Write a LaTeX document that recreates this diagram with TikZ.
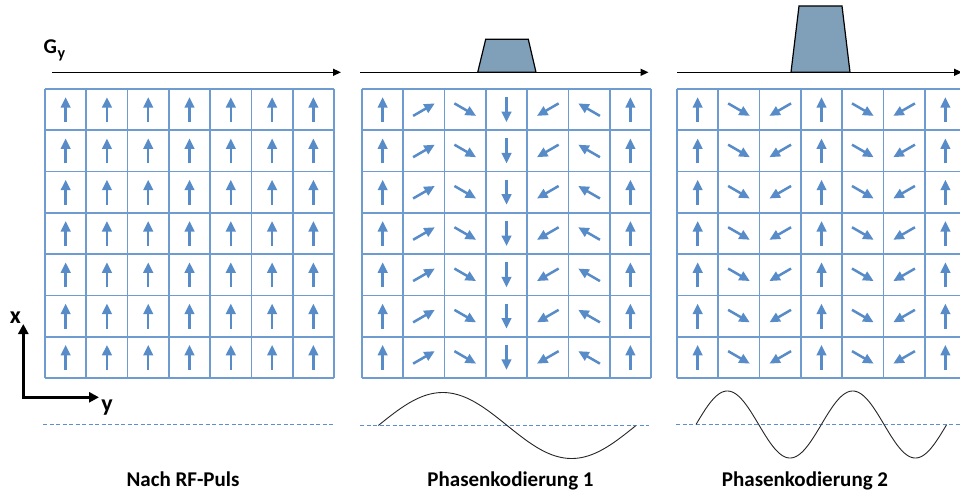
\documentclass[tikz,border=0pt]{standalone}
\usepackage{fontspec}
\setmainfont{Carlito}
\usetikzlibrary{arrows.meta,calc}
\definecolor{gridblue}{RGB}{110,156,208}
\definecolor{spinblue}{RGB}{88,140,200}
\definecolor{pulsefill}{RGB}{127,160,184}
\definecolor{baseblue}{RGB}{91,144,205}
\begin{document}
\begin{tikzpicture}[x=1pt,y=-1pt,
  gridline/.style={draw=gridblue,line width=1.8pt},
  spin/.style={draw=spinblue,line width=2.5pt,-{Triangle[length=10.5pt,width=9.5pt]}},
  gyarrow/.style={draw=black,line width=1.4pt,-{Triangle[length=8pt,width=7pt]}},
  pulse/.style={draw=black,line width=1.2pt,fill=pulsefill,line join=miter},
  baseline/.style={draw=baseblue,line width=0.9pt,dash pattern=on 4pt off 2.5pt},
  sine/.style={draw=black!85,line width=0.9pt},
  axisarrow/.style={draw=black,line width=3pt,line join=miter,{Triangle[length=10pt,width=10pt]}-{Triangle[length=10pt,width=10pt]}},
  label/.style={font=\bfseries\fontsize{21}{24}\selectfont,anchor=base},
  axislabel/.style={font=\bfseries\fontsize{24}{26}\selectfont,anchor=base},
]
\clip (0,0) rectangle (960,495);
\fill[white] (0,0) rectangle (960,495);

% G_y label
\node[font=\bfseries\fontsize{21}{24}\selectfont,anchor=base west,inner sep=0pt] (gy) at (43.5,53.3) {G\kern0.5pt\raisebox{-5pt}{\fontsize{16}{16}\selectfont y}};

% gradient time axes
\coordinate (a1s) at (52,72.3);  \coordinate (a1e) at (341,72.3);
\coordinate (a2s) at (360,72.3); \coordinate (a2e) at (648.5,72.3);
\coordinate (a3s) at (677,72.3); \coordinate (a3e) at (962,72.3);
% pulses
\draw[pulse] (477.7,72.3) -- (485.7,39.3) -- (528.3,39.3) -- (536,72.3) -- cycle;
\draw[pulse] (791,72.3) -- (799,6) -- (842,6) -- (850,72.3) -- cycle;
\draw[gyarrow] (a1s) -- (a1e);
\draw[gyarrow] (a2s) -- (a2e);
\draw[gyarrow] (a3s) -- (a3e);

% grids with spins
\foreach \gx/\st in {45/0,362/60,677/120}{
  \foreach \i in {0,...,7}{
    \draw[gridline] ({\gx+\i*41.29},89) -- ({\gx+\i*41.29},378);
    \draw[gridline] (\gx,{89+\i*41.29}) -- ({\gx+289},{89+\i*41.29});
  }
  \foreach \c in {0,...,6}{
    \foreach \r in {0,...,6}{
      \pgfmathsetmacro\ang{90-\c*\st}
      \pgfmathsetmacro\cx{\gx+20.65+\c*41.29}
      \pgfmathsetmacro\cy{89+20.65+\r*41.29}
      \draw[spin] ([shift={(\ang+180:12.5pt)}]\cx,\cy) -- ([shift={(\ang:12.5pt)}]\cx,\cy);
    }
  }
}

% baselines
\draw[baseline] (43,424.3) -- (333,424.3);
\draw[baseline] (360,425.5) -- (649,425.5);
\draw[baseline] (676,424.3) -- (960,424.3);

% sine curves
\draw[sine] plot[domain=0:1,samples=120] ({378.3+257.7*\x},{425.5-33*sin(360*\x)});
\draw[sine] plot[domain=0:2,samples=200] ({696+125.35*\x},{424.5-33.5*sin(360*\x)});

% axes
\coordinate (origin) at (23.3,397.3);
\coordinate (xtip) at (23.3,324);
\coordinate (ytip) at (99,397.3);
\draw[axisarrow] (xtip) -- (origin) -- (ytip);
\node[axislabel] (xlab) at (15.5,323) {x};
\node[axislabel] (ylab) at (107,411.5) {y};

% captions
\node[label] (cap1) at (183,486.5) {Nach RF-Puls};
\node[label] (cap2) at (510.5,486.5) {Phasenkodierung 1};
\node[label] (cap3) at (805,486.5) {Phasenkodierung 2};
\end{tikzpicture}
\end{document}
